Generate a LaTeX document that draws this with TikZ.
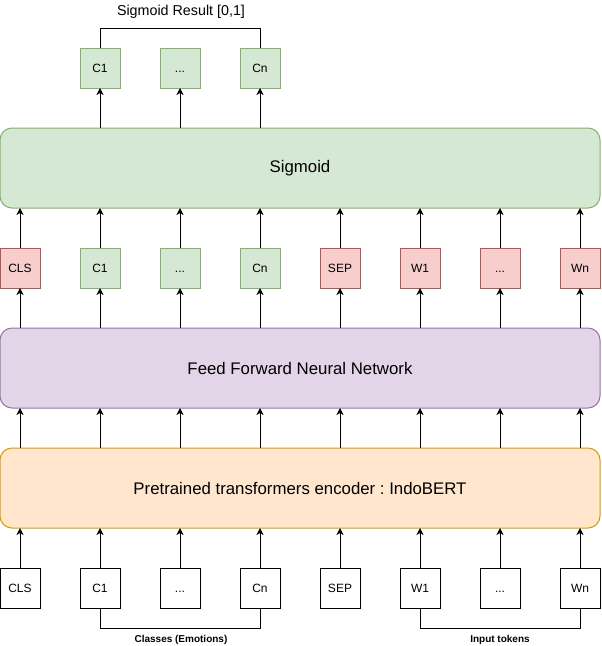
\documentclass[tikz,border=0pt]{standalone}
\usepackage{fontspec}
\setmainfont{Liberation Sans}
\usetikzlibrary{positioning,arrows.meta}
\frenchspacing

\definecolor{greenfill}{HTML}{D5E8D4}
\definecolor{greenline}{HTML}{82B366}
\definecolor{redfill}{HTML}{F8CECC}
\definecolor{redline}{HTML}{B85450}
\definecolor{purplefill}{HTML}{E1D5E7}
\definecolor{purpleline}{HTML}{9673A6}
\definecolor{orangefill}{HTML}{FFE6CC}
\definecolor{orangeline}{HTML}{D79B00}

\begin{document}
\begin{tikzpicture}[x=1pt, y=-1pt, line width=1pt,
  every node/.style={font=\fontsize{12}{14}\selectfont},
  token/.style={draw, rectangle, minimum width=40pt, minimum height=40pt, inner sep=0pt, outer sep=0pt, text height=8.6pt, text depth=0pt},
  classbox/.style={token, fill=greenfill, draw=greenline},
  wordbox/.style={token, fill=redfill, draw=redline},
  layer/.style={draw, rectangle, rounded corners=12pt, minimum width=600pt, minimum height=80pt, outer sep=0pt, font=\fontsize{16.8}{20}\selectfont},
  up/.style={-{Stealth[length=7pt, width=7pt, inset=2pt]}}]
  \useasboundingbox (0,0) rectangle (602,646);

  % input tokens
  \node[token] (icls) at (20,588) {CLS};
  \node[token, right=40pt of icls] (ic1) {C1};
  \node[token, right=40pt of ic1] (idots) {...};
  \node[token, right=40pt of idots] (icn) {Cn};
  \node[token, right=40pt of icn] (isep) {SEP};
  \node[token, right=40pt of isep] (iw1) {W1};
  \node[token, right=40pt of iw1] (iwdots) {...};
  \node[token, right=40pt of iwdots] (iwn) {Wn};

  % layers
  \node[layer, fill=orangefill, draw=orangeline] (enc) at (300,488) {Pretrained transformers encoder : IndoBERT};
  \node[layer, fill=purplefill, draw=purpleline, above=40pt of enc] (ffnn) {Feed Forward Neural Network};
  \node[layer, fill=greenfill, draw=greenline, above=120pt of ffnn] (sig) {Sigmoid};

  % hidden outputs
  \node[wordbox] (mcls) at (20,268) {CLS};
  \node[classbox, right=40pt of mcls] (mc1) {C1};
  \node[classbox, right=40pt of mc1] (mdots) {...};
  \node[classbox, right=40pt of mdots] (mcn) {Cn};
  \node[wordbox, right=40pt of mcn] (msep) {SEP};
  \node[wordbox, right=40pt of msep] (mw1) {W1};
  \node[wordbox, right=40pt of mw1] (mwdots) {...};
  \node[wordbox, right=40pt of mwdots] (mwn) {Wn};

  % class results
  \node[classbox] (oc1) at (100,68) {C1};
  \node[classbox, right=40pt of oc1] (odots) {...};
  \node[classbox, right=40pt of odots] (ocn) {Cn};

  \foreach \n in {cls,c1,dots,cn,sep,w1,wdots,wn} {
    \draw[up] (i\n.north) -- (i\n |- enc.south);
    \draw[up] (i\n |- enc.north) -- (i\n |- ffnn.south);
    \draw[up] (i\n |- ffnn.north) -- (m\n.south);
    \draw[up] (m\n.north) -- (m\n |- sig.south);
  }
  \foreach \n in {c1,dots,cn}
    \draw[up] (o\n |- sig.north) -- (o\n.south);

  % brackets
  \draw (oc1.north) -- ++(0,-20) -| (ocn.north);
  \node[font=\fontsize{14.3}{17}\selectfont] (result) at (181,12) {Sigmoid Result [0,1]};
  \draw (ic1.south) -- ++(0,20) -| (icn.south);
  \draw (iw1.south) -- ++(0,20) -| (iwn.south);
  \node[font=\bfseries\fontsize{10}{12}\selectfont] (classes) at (181,640) {Classes (Emotions)};
  \node[font=\bfseries\fontsize{10}{12}\selectfont] (inputs) at (500,640) {Input tokens};
\end{tikzpicture}
\end{document}
